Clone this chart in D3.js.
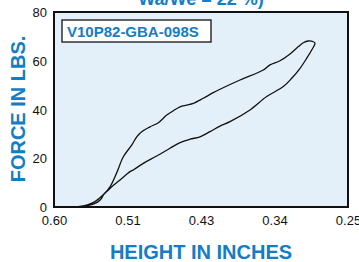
<!DOCTYPE html>
<html>
<head>
<meta charset="utf-8">
<script src="https://cdn.jsdelivr.net/npm/d3@7"></script>
<style>
  body { margin: 0; background: #fff; }
  svg { display: block; font-family: "Liberation Sans", Arial, Helvetica, sans-serif; }
</style>
</head>
<body>
<div id="chart"></div>
<script>
// loading curve (height in, force lbs), left to right
var loadHeight = [0.5714, 0.5611, 0.5512, 0.5417, 0.5333, 0.5254, 0.5175, 0.5075, 0.5015, 0.4956,
  0.4857, 0.4758, 0.4658, 0.4580, 0.4500, 0.4420, 0.4342, 0.4223, 0.4104, 0.4024,
  0.3786, 0.3508, 0.3429, 0.3310, 0.3190, 0.3091, 0.3032, 0.2973, 0.2913, 0.2893];
var loadForce = [0.1, 0.8, 2.2, 4.9, 8.3, 14.0, 20.6, 25.4, 28.8, 30.9,
  32.9, 34.6, 37.7, 39.5, 41.1, 41.8, 42.5, 44.6, 46.9, 48.3,
  52.1, 56.2, 58.3, 60.0, 62.8, 65.8, 67.4, 68.1, 67.8, 67.2];
// return curve, right to left
var returnHeight = [0.2932, 0.2992, 0.3071, 0.3170, 0.3270, 0.3468, 0.3667, 0.3905, 0.4024, 0.4143,
  0.4262, 0.4381, 0.4500, 0.4619, 0.4778, 0.4937, 0.5056, 0.5095, 0.5214, 0.5313,
  0.5373, 0.5413, 0.5432, 0.5473, 0.5532, 0.5611, 0.5690];
var returnForce = [64.4, 61.0, 56.9, 52.8, 49.4, 45.3, 39.8, 35.0, 33.2, 30.9,
  28.8, 27.8, 26.4, 24.1, 20.9, 17.9, 15.2, 14.5, 11.1, 8.3,
  6.3, 4.9, 3.6, 2.2, 1.2, 0.5, 0.1];

var xTicks = [0.60, 0.5125, 0.425, 0.3375, 0.25];
var xTickLabels = ["0.60", "0.51", "0.43", "0.34", "0.25"];
var yTicks = [0, 20, 40, 60, 80];

var blue = "#137dc5";
var W = 359, H = 262;
var margin = {top: 12, right: 11, bottom: 55, left: 54},
    width = W - margin.left - margin.right,
    height = H - margin.top - margin.bottom;

var svg = d3.select("#chart").append("svg")
    .attr("width", W)
    .attr("height", H);

var g = svg.append("g")
    .attr("transform", "translate(" + margin.left + "," + margin.top + ")");

var x = d3.scaleLinear().domain([0.60, 0.25]).range([0, width]);
var y = d3.scaleLinear().domain([0, 80]).range([height, 0]);

g.append("rect")
    .attr("width", width)
    .attr("height", height)
    .attr("fill", "#e3f0f9");

var xAxis = g.append("g")
    .attr("transform", "translate(0," + height + ")")
    .call(d3.axisBottom(x).tickValues(xTicks).tickSize(0).tickPadding(9)
      .tickFormat(function(d, i) { return xTickLabels[i]; }));
var yAxis = g.append("g")
    .call(d3.axisLeft(y).tickValues(yTicks).tickSize(0).tickPadding(7));
[xAxis, yAxis].forEach(function(a) {
  a.select(".domain").remove();
  a.selectAll("text").attr("font-size", 13).attr("fill", "#111")
    .attr("font-family", "Liberation Sans, Arial, sans-serif");
});
yAxis.selectAll("text").attr("dy", "0.35em");

// the hysteresis loop
var pts = loadHeight.map(function(h, i) { return [h, loadForce[i]]; })
  .concat(returnHeight.map(function(h, i) { return [h, returnForce[i]]; }));

var line = d3.line()
    .x(function(d) { return x(d[0]); })
    .y(function(d) { return y(d[1]); })
    .curve(d3.curveCatmullRom);

g.append("path")
    .datum(pts)
    .attr("d", line)
    .attr("fill", "none")
    .attr("stroke", "#111")
    .attr("stroke-width", 1.3);

g.append("rect")
    .attr("width", width)
    .attr("height", height)
    .attr("fill", "none")
    .attr("stroke", "#111")
    .attr("stroke-width", 2);

// part number box
g.append("rect")
    .attr("x", 8).attr("y", 8)
    .attr("width", 149).attr("height", 22)
    .attr("fill", "#fff")
    .attr("stroke", "#111")
    .attr("stroke-width", 1.3);
g.append("text")
    .attr("x", 13).attr("y", 25)
    .attr("font-size", 15)
    .attr("font-weight", "bold")
    .attr("fill", blue)
    .text("V10P82-GBA-098S");

// titles
svg.append("text")
    .attr("x", 201).attr("y", 5)
    .attr("text-anchor", "middle")
    .attr("font-size", 18)
    .attr("font-weight", "bold")
    .attr("fill", blue)
    .text("Wa/We = 22 %)");

svg.append("text")
    .attr("transform", "translate(25,109) rotate(-90)")
    .attr("text-anchor", "middle")
    .attr("font-size", 20)
    .attr("font-weight", "bold")
    .attr("fill", blue)
    .text("FORCE IN LBS.");

svg.append("text")
    .attr("x", 201).attr("y", 259)
    .attr("text-anchor", "middle")
    .attr("font-size", 20)
    .attr("font-weight", "bold")
    .attr("fill", blue)
    .text("HEIGHT IN INCHES");
</script>
</body>
</html>
